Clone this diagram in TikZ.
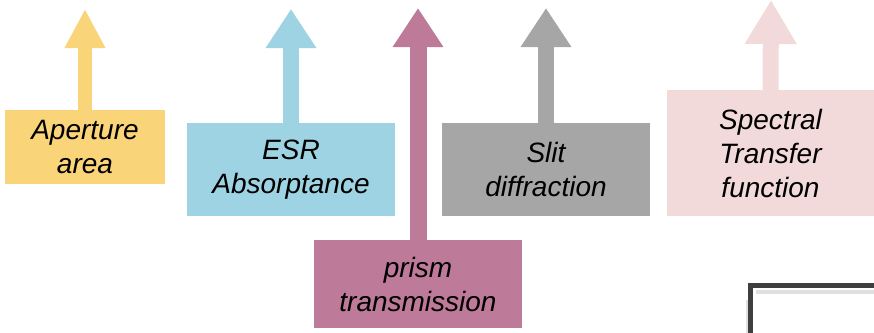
\documentclass[tikz,border=0pt]{standalone}
\usepackage{fontspec}
\setmainfont{Liberation Sans}
\usetikzlibrary{arrows.meta}

\definecolor{apercol}{HTML}{F9D479}
\definecolor{esrcol}{HTML}{9DD3E2}
\definecolor{prismcol}{HTML}{BE7A99}
\definecolor{slitcol}{HTML}{A5A6A5}
\definecolor{stfcol}{HTML}{F2DADA}
\definecolor{framecol}{HTML}{3F3F3F}

\tikzset{
  factor/.style={inner sep=0pt, align=center, text=black,
    font=\fontsize{28}{34}\selectfont\itshape},
  uparrow/.style={line width=16pt,
    -{Triangle[length=39pt, width=48pt]}},
}

\begin{document}
\begin{tikzpicture}[x=1pt, y=-1pt]
            \path[use as bounding box, clip] (0,0) rectangle (874,332);
            \node [factor, fill=apercol, minimum width=160pt, minimum height=74pt] (aper) at (85,147) {Aperture\\area};
            \node [factor, fill=esrcol, minimum width=208pt, minimum height=93pt] (esr) at (291,169.5) {ESR\\Absorptance};
            \node [factor, fill=slitcol, minimum width=208pt, minimum height=93pt] (slit) at (546,169.5) {Slit\\diffraction};
            \node [factor, fill=stfcol, minimum width=207pt, minimum height=126pt] (stf) at (770.5,153) {Spectral\\Transfer\\function};
            \node [factor, fill=prismcol, minimum width=208pt, minimum height=88pt] (prism) at (418,284) {prism\\transmission};
            \coordinate (aper tip) at (85, 9);
            \coordinate (esr tip) at (291, 9);
            \coordinate (prism tip) at (418, 8);
            \coordinate (slit tip) at (546, 8);
            \coordinate (stf tip) at (771, 0);
            \draw [apercol, line width=14pt, -{Triangle[length=39pt, width=38pt]}] (aper.north) -- (aper tip);
            \draw [esrcol, uparrow] (esr.north) -- (esr tip);
            \draw [prismcol, uparrow, line width=17pt] (prism.north) -- (prism tip);
            \draw [slitcol, uparrow] (slit.north) -- (slit tip);
            \draw [stfcol, uparrow, -{Triangle[length=44pt, width=49pt]}] (stf.north) -- (stf tip);
            % frame in the lower right corner
            \draw [black!12, line width=4pt] (756,292) -- (880,292);
            \draw [black!12, line width=3pt] (747,300) -- (747,340);
            \draw [framecol, line width=5pt] (750.5,340) -- (750.5,285.5) -- (880,285.5);
        \end{tikzpicture}
\end{document}
